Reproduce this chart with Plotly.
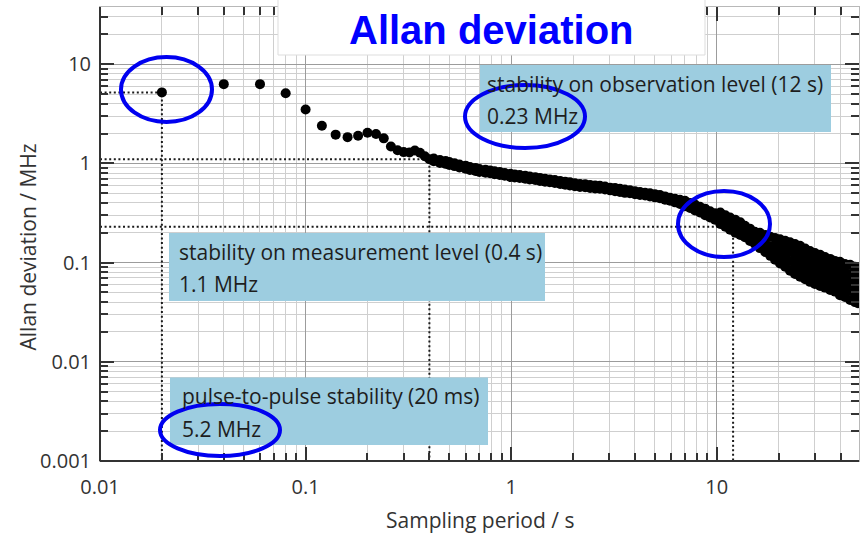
import plotly.graph_objects as go

# Allan deviation of the frequency measurement (tau in s, deviation in MHz)
tau_sparse = [0.02, 0.04, 0.06, 0.08, 0.10, 0.12, 0.14, 0.16, 0.18, 0.20,
              0.22, 0.24, 0.26, 0.28, 0.30, 0.32, 0.34, 0.36, 0.38, 0.40]
adev_sparse = [5.2, 6.3, 6.3, 5.1, 3.5, 2.4, 1.95, 1.84, 1.90, 2.04,
               1.98, 1.79, 1.48, 1.36, 1.30, 1.29, 1.35, 1.28, 1.18, 1.10]

# dense part of the curve: each tau carries the spread of values seen there
tau_band = [
    0.42, 0.42, 0.45, 0.45, 0.48, 0.48, 0.50, 0.50, 0.53, 0.53,
    0.56, 0.56, 0.60, 0.60, 0.63, 0.63, 0.67, 0.67, 0.70, 0.70,
    0.75, 0.75, 0.79, 0.79, 0.83, 0.83, 0.88, 0.88, 0.93, 0.93,
    0.99, 0.99, 1.04, 1.04, 1.10, 1.10, 1.17, 1.17, 1.23, 1.23,
    1.31, 1.31, 1.38, 1.38, 1.46, 1.46, 1.54, 1.54, 1.63, 1.63,
    1.73, 1.73, 1.83, 1.83, 1.93, 1.93, 2.04, 2.04, 2.16, 2.16,
    2.29, 2.29, 2.42, 2.42, 2.56, 2.56, 2.70, 2.70, 2.86, 2.86,
    3.03, 3.03, 3.20, 3.20, 3.38, 3.38, 3.57, 3.57, 3.78, 3.78,
    4.00, 4.00, 4.23, 4.23, 4.48, 4.48, 4.73, 4.73, 5.00, 5.00,
    5.29, 5.29, 5.60, 5.60, 5.92, 5.92, 6.26, 6.26, 6.62, 6.62,
    7.00, 7.00, 7.41, 7.41, 7.83, 7.83, 8.28, 8.28, 8.77, 8.77,
    9.27, 9.27, 9.80, 9.80,
    10.4, 10.4, 10.4, 11.0, 11.0, 11.0, 11.6, 11.6, 11.6, 12.3, 12.3, 12.3,
    13.0, 13.0, 13.0, 13.7, 13.7, 13.7, 14.5, 14.5, 14.5, 15.3, 15.3, 15.3,
    16.2, 16.2, 16.2, 17.2, 17.2, 17.2, 18.2, 18.2, 18.2,
    19.2, 19.2, 19.2, 19.2, 20.3, 20.3, 20.3, 20.3,
    21.5, 21.5, 21.5, 21.5, 22.7, 22.7, 22.7, 22.7,
    24.0, 24.0, 24.0, 24.0, 24.0, 25.4, 25.4, 25.4, 25.4, 25.4,
    26.9, 26.9, 26.9, 26.9, 26.9, 28.4, 28.4, 28.4, 28.4, 28.4,
    30.0, 30.0, 30.0, 30.0, 30.0, 31.8, 31.8, 31.8, 31.8, 31.8,
    33.6, 33.6, 33.6, 33.6, 33.6, 35.6, 35.6, 35.6, 35.6, 35.6,
    37.6, 37.6, 37.6, 37.6, 37.6, 39.7, 39.7, 39.7, 39.7, 39.7,
    42.0, 42.0, 42.0, 42.0, 42.0, 44.5, 44.5, 44.5, 44.5, 44.5,
    47.0, 47.0, 47.0, 47.0, 47.0, 48.6, 48.6, 48.6, 48.6, 48.6,
]
adev_band = [
    1.12, 1.05, 1.08, 1.01, 1.06, 0.99, 1.035, 0.965, 1.005, 0.94,
    0.975, 0.91, 0.95, 0.885, 0.92, 0.86, 0.90, 0.84, 0.88, 0.82,
    0.865, 0.805, 0.85, 0.795, 0.835, 0.78, 0.82, 0.765, 0.80, 0.75,
    0.785, 0.73, 0.775, 0.72, 0.765, 0.715, 0.75, 0.70, 0.74, 0.69,
    0.725, 0.68, 0.715, 0.665, 0.70, 0.655, 0.69, 0.645, 0.68, 0.635,
    0.665, 0.62, 0.655, 0.61, 0.645, 0.60, 0.63, 0.59, 0.62, 0.58,
    0.615, 0.575, 0.605, 0.565, 0.60, 0.56, 0.595, 0.555, 0.585, 0.545,
    0.57, 0.535, 0.565, 0.525, 0.555, 0.515, 0.545, 0.505, 0.535, 0.50,
    0.525, 0.49, 0.515, 0.48, 0.505, 0.475, 0.50, 0.465, 0.49, 0.455,
    0.48, 0.445, 0.465, 0.43, 0.45, 0.42, 0.44, 0.405, 0.43, 0.39,
    0.42, 0.37, 0.40, 0.355, 0.385, 0.335, 0.365, 0.32, 0.35, 0.30,
    0.33, 0.285, 0.315, 0.27,
    0.32, 0.28, 0.245, 0.30, 0.26, 0.23, 0.285, 0.25, 0.215, 0.27, 0.235, 0.20,
    0.255, 0.22, 0.19, 0.235, 0.205, 0.18, 0.22, 0.19, 0.165, 0.205, 0.18, 0.155,
    0.20, 0.167, 0.14, 0.19, 0.156, 0.128, 0.182, 0.146, 0.117,
    0.177, 0.15, 0.126, 0.107, 0.172, 0.143, 0.118, 0.098,
    0.166, 0.135, 0.111, 0.091, 0.16, 0.129, 0.104, 0.083,
    0.154, 0.13, 0.109, 0.092, 0.077, 0.148, 0.123, 0.103, 0.086, 0.072,
    0.139, 0.116, 0.097, 0.081, 0.068, 0.131, 0.11, 0.092, 0.077, 0.064,
    0.125, 0.105, 0.087, 0.073, 0.061, 0.12, 0.10, 0.083, 0.070, 0.058,
    0.114, 0.095, 0.080, 0.067, 0.056, 0.109, 0.091, 0.076, 0.064, 0.053,
    0.104, 0.087, 0.073, 0.061, 0.051, 0.102, 0.084, 0.069, 0.057, 0.047,
    0.097, 0.080, 0.066, 0.055, 0.045, 0.095, 0.077, 0.063, 0.052, 0.042,
    0.091, 0.074, 0.060, 0.049, 0.040, 0.089, 0.072, 0.059, 0.048, 0.039,
]

# Reference levels marked on the curve
level_tau = [0.02, 0.4, 12]
level_adev = [5.2, 1.1, 0.23]
level_titles = ["pulse-to-pulse stability (20 ms)",
                "stability on measurement level (0.4 s)",
                "stability on observation level (12 s)"]

x_tickvals = [0.01, 0.1, 1, 10]
x_ticktext = ["0.01", "0.1", "1", "10"]
y_tickvals = [0.001, 0.01, 0.1, 1, 10]
y_ticktext = ["0.001", "0.01", "0.1", "1", "10"]

# Canvas geometry (pixels)
W, H = 860, 533
ML, MR, MT, MB = 100, 1, 7, 72
PW, PH = W - ML - MR, H - MT - MB


def px(x):
    return (x - ML) / PW


def py(y):
    return (H - MB - y) / PH


X_MIN = 0.01
Y_MIN = 0.001

minor_x = [k * 10 ** e for e in range(-2, 2) for k in range(2, 10)]
minor_y = [k * 10 ** e for e in range(-3, 2) for k in range(2, 10)]

fig = go.Figure()

# dotted guide lines from the y axis to each level and down to the x axis
for t, v in zip(level_tau, level_adev):
    fig.add_trace(go.Scatter(
        x=[X_MIN, t, t], y=[v, v, Y_MIN], mode="lines",
        line=dict(color="#1a1a1a", width=2, dash="2px,2.6px"),
        hoverinfo="skip", showlegend=False))

fig.add_trace(go.Scatter(
    x=tau_sparse + tau_band, y=adev_sparse + adev_band, mode="markers",
    marker=dict(color="black", size=10, line=dict(width=0)),
    showlegend=False))

tick_font = dict(family="Open Sans", size=20, color="#333333")
axis_common = dict(
    type="log", showgrid=True, gridcolor="#9c9c9c", gridwidth=1,
    ticks="inside", ticklen=14, tickwidth=1.5, tickcolor="#333333",
    showline=True, linecolor="#b8b8b8", linewidth=1, mirror="ticks",
    zeroline=False, tickfont=tick_font, tickmode="array",
)

fig.update_layout(
    width=W, height=H,
    margin=dict(l=ML, r=MR, t=MT, b=MB, pad=0),
    paper_bgcolor="white", plot_bgcolor="white",
    xaxis=dict(
        axis_common, range=[-2, 1.6916],
        tickvals=x_tickvals, ticktext=x_ticktext, ticklabelstandoff=8,
        minor=dict(tickmode="array", tickvals=minor_x, ticks="inside",
                   ticklen=8, tickwidth=1.5, tickcolor="#333333",
                   showgrid=True, gridcolor="#cfcfcf", gridwidth=1)),
    yaxis=dict(
        axis_common, range=[-3, 1.577],
        tickvals=y_tickvals, ticktext=y_ticktext, ticklabelstandoff=4,
        minor=dict(tickmode="array", tickvals=minor_y, ticks="inside",
                   ticklen=8, tickwidth=1.5, tickcolor="#333333",
                   showgrid=True, gridcolor="#cfcfcf", gridwidth=1)),
)

shapes = []
# dark left and bottom axis lines
shapes.append(dict(type="line", xref="paper", yref="paper", x0=0, x1=0, y0=0, y1=1,
                   line=dict(color="#333333", width=2)))
shapes.append(dict(type="line", xref="paper", yref="paper", x0=0, x1=1, y0=0, y1=0,
                   line=dict(color="#333333", width=2)))

# white title plate
shapes.append(dict(type="rect", xref="paper", yref="paper",
                   x0=px(278), x1=px(705), y0=py(55), y1=py(-5),
                   fillcolor="white", line=dict(color="#dddddd", width=1)))

# label boxes: (left, top, right, bottom, text-left) in pixels
boxes = [
    (170, 377.5, 488, 445, 180),
    (169, 233, 545, 301, 177),
    (480, 65, 831, 132, 485),
]
annotations = []
for (l, t, r, b, tl), title, v in zip(boxes, level_titles, level_adev):
    shapes.append(dict(type="rect", xref="paper", yref="paper",
                       x0=px(l), x1=px(r), y0=py(b), y1=py(t),
                       fillcolor="#9dcde0", line=dict(width=0)))
    for text, base in ((title, t + 27), (f"{v:g} MHz", t + 59.5)):
        annotations.append(dict(
            xref="paper", yref="paper", x=px(tl), y=py(base - 8.1),
            xanchor="left", yanchor="middle", showarrow=False, text=text,
            font=dict(family="Open Sans", size=21, color="#1e1e1e")))

# blue highlight ellipses
for x0, x1, y0, y1 in [(121, 212, 57, 122), (465, 585, 85, 148),
                       (678, 770, 191, 257), (160, 280, 404, 456)]:
    shapes.append(dict(type="circle", xref="paper", yref="paper",
                       x0=px(x0), x1=px(x1), y0=py(y1), y1=py(y0),
                       line=dict(color="#0000f0", width=4)))

annotations.append(dict(
    xref="paper", yref="paper", x=px(491), y=py(30), xanchor="center", yanchor="middle",
    showarrow=False, text="<b>Allan deviation</b>",
    font=dict(family="Liberation Sans, Arial", size=40, color="#0000ff")))
annotations.append(dict(
    xref="paper", yref="paper", x=px(480), y=py(520), xanchor="center", yanchor="middle",
    showarrow=False, text="Sampling period / s",
    font=dict(family="Open Sans", size=21, color="#333333")))
annotations.append(dict(
    xref="paper", yref="paper", x=px(27), y=py(247.5), xanchor="center", yanchor="middle",
    showarrow=False, text="Allan deviation / MHz", textangle=-90,
    font=dict(family="Open Sans", size=21, color="#333333")))

fig.update_layout(shapes=shapes, annotations=annotations)

fig.write_html("out.html")
